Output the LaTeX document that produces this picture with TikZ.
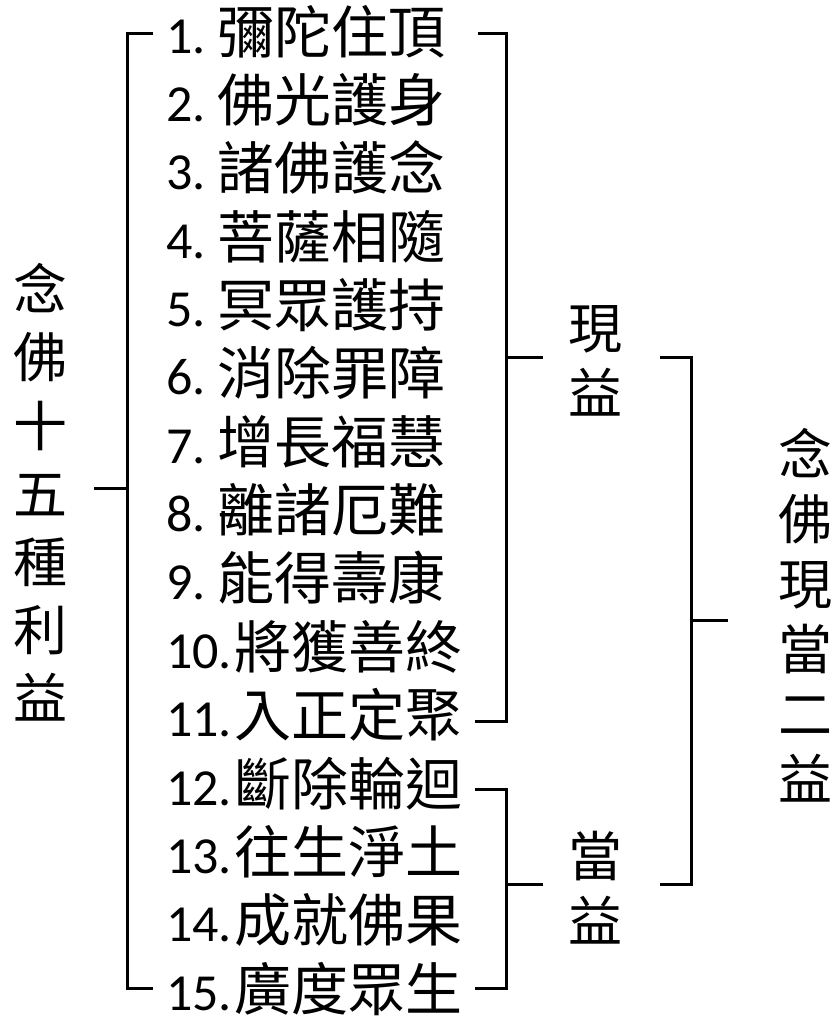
\documentclass[tikz,border=0pt]{standalone}
\usepackage{fontspec}
\setmainfont{Carlito}
\newfontfamily\cjk{Noto Sans CJK TC}
\newcommand\cjt{\cjk\fontsize{57}{60}\selectfont}
\begin{document}
\begin{tikzpicture}[x=1pt,y=-1pt,
  item/.style={anchor=base west, inner sep=0pt, font=\fontsize{52}{60}\selectfont},
  vtitle/.style={align=center, inner sep=0pt, font=\cjk\fontsize{54}{68.2}\selectfont},
  vlabel/.style={align=center, inner sep=0pt, font=\cjk\fontsize{54}{65}\selectfont},
  brk/.style={line width=3pt}]
\useasboundingbox (0,0) rectangle (837,1023);

% items
\node[item] (i1)  at (166,53)      {1.\hspace{12pt}{\cjt 彌陀住頂}};
\node[item] (i2)  at (166,121.4)   {2.\hspace{12pt}{\cjt 佛光護身}};
\node[item] (i3)  at (166,189.7)   {3.\hspace{12pt}{\cjt 諸佛護念}};
\node[item] (i4)  at (166,258.1)   {4.\hspace{12pt}{\cjt 菩薩相隨}};
\node[item] (i5)  at (166,326.4)   {5.\hspace{12pt}{\cjt 冥眾護持}};
\node[item] (i6)  at (166,394.8)   {6.\hspace{12pt}{\cjt 消除罪障}};
\node[item] (i7)  at (166,463.2)   {7.\hspace{12pt}{\cjt 增長福慧}};
\node[item] (i8)  at (166,531.5)   {8.\hspace{12pt}{\cjt 離諸厄難}};
\node[item] (i9)  at (166,599.9)   {9.\hspace{12pt}{\cjt 能得壽康}};
\node[item] (i10) at (166,668.2)   {10.\hspace{2pt}{\cjt 將獲善終}};
\node[item] (i11) at (166,736.6)   {11.\hspace{2pt}{\cjt 入正定聚}};
\node[item] (i12) at (166,805.0)   {12.\hspace{2pt}{\cjt 斷除輪迴}};
\node[item] (i13) at (166,873.3)   {13.\hspace{2pt}{\cjt 往生淨土}};
\node[item] (i14) at (166,941.7)   {14.\hspace{2pt}{\cjt 成就佛果}};
\node[item] (i15) at (166,1010)    {15.\hspace{2pt}{\cjt 廣度眾生}};

% titles and labels
\node[vtitle] (lt) at (40,492.5) {念\\佛\\十\\五\\種\\利\\益};
\node[vlabel] (xy) at (595,360.5) {現\\益};
\node[vlabel] (dy) at (595,887.5) {當\\益};
\node[vlabel] (rt) at (805,615.5) {念\\佛\\現\\當\\二\\益};

% bracket coordinates
\coordinate (Ls) at (94,488);
\coordinate (Lm) at (127,488);
\coordinate (Lt) at (153,33);
\coordinate (Lb) at (153,988);
\coordinate (Ut) at (478,33);
\coordinate (Ub) at (475,721);
\coordinate (Um) at (506,357);
\coordinate (Ue) at (543,357);
\coordinate (Dt) at (475,789);
\coordinate (Db) at (475,988);
\coordinate (Dm) at (506,884);
\coordinate (De) at (543,884);
\coordinate (Rt) at (660,357);
\coordinate (Rb) at (660,884);
\coordinate (Rm) at (691,620);
\coordinate (Re) at (728,620);

% left bracket
\draw[brk] (Lt) -| (127,988) -- (Lb);
\draw[brk] (Ls) -- (Lm);
% upper right bracket (present benefits)
\draw[brk] (Ut) -| (506,721) -- (Ub);
\draw[brk] (Um) -- (Ue);
% lower right bracket (future benefits)
\draw[brk] (Dt) -| (506,988) -- (Db);
\draw[brk] (Dm) -- (De);
% outer bracket
\draw[brk] (Rt) -| (691,884) -- (Rb);
\draw[brk] (Rm) -- (Re);
\end{tikzpicture}
\end{document}
